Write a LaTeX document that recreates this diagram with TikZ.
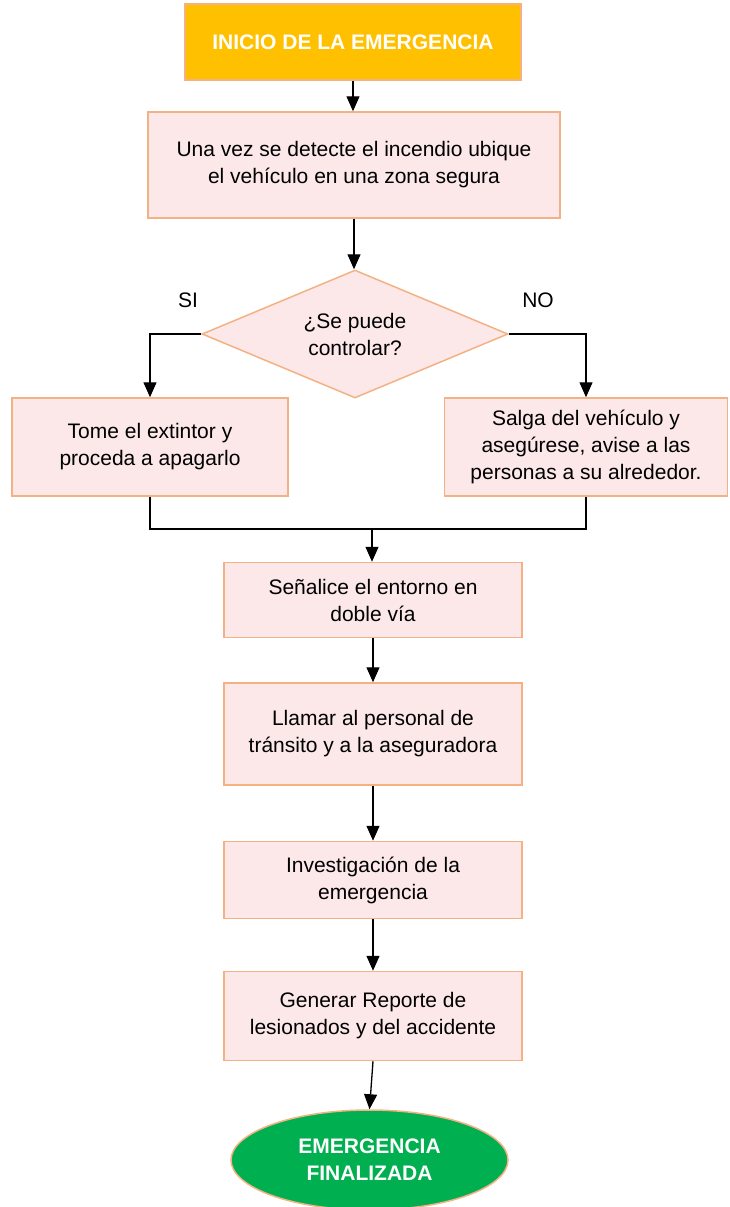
\documentclass[tikz,border=0pt]{standalone}
\usepackage{fontspec}
\setmainfont{Liberation Sans}
\usepackage{tikz}
\usetikzlibrary{arrows.meta, shapes.geometric}
\definecolor{oro}{HTML}{FFC000}
\definecolor{rosa}{HTML}{FCE8E8}
\definecolor{borde}{HTML}{F4B183}
\definecolor{verde}{HTML}{00B050}
\tikzset{
  paso/.style={rectangle, draw=borde, fill=rosa, line width=1.5pt, align=center,
    inner sep=0pt, font=\fontsize{21}{27}\selectfont},
  extremo/.style={draw=borde, line width=1.5pt, align=center, inner sep=0pt,
    text=white, font=\fontsize{21}{27}\selectfont\bfseries},
  flecha/.style={line width=1.3pt, -{Triangle[length=15pt, width=13pt]}},
  linea/.style={line width=1.3pt}
}
\begin{document}
\begin{tikzpicture}[x=1pt, y=-1pt]
  \useasboundingbox (0,0) rectangle (729,1207);

  \node[extremo, fill=oro, minimum width=336pt, minimum height=76pt] (inicio) at (353,42) {INICIO DE LA EMERGENCIA};
  \node[paso, minimum width=412pt, minimum height=106pt] (ubique) at (354,165) {Una vez se detecte el incendio ubique\\el vehículo en una zona segura};
  \node[diamond, aspect=2.4, draw=borde, fill=rosa, line width=1.5pt, align=center, inner sep=0pt,
    minimum width=306pt, minimum height=128pt, font=\fontsize{21}{27}\selectfont] (control) at (355,334) {¿Se puede\\controlar?};
  \node[font=\fontsize{21}{27}\selectfont] (si) at (188,300) {SI};
  \node[font=\fontsize{21}{27}\selectfont] (no) at (538,300) {NO};

  \node[paso, minimum width=276pt, minimum height=98pt] (extintor) at (150,447) {Tome el extintor y\\proceda a apagarlo};
  \node[paso, minimum width=283pt, minimum height=98pt] (salga) at (586,447) {Salga del vehículo y\\asegúrese, avise a las\\personas a su alrededor.};
  \coordinate (junta) at (372,529);

  \node[paso, minimum width=298pt, minimum height=75pt] (senal) at (373,600) {Señalice el entorno en\\doble vía};
  \node[paso, minimum width=298pt, minimum height=102pt] (llamar) at (373,734) {Llamar al personal de\\tránsito y a la aseguradora};
  \node[paso, minimum width=298pt, minimum height=77pt] (investiga) at (373,880) {Investigación de la\\emergencia};
  \node[paso, minimum width=298pt, minimum height=89pt] (reporte) at (373,1016) {Generar Reporte de\\lesionados y del accidente};
  \node[ellipse, extremo, fill=verde, minimum width=277pt, minimum height=100pt] (fin) at (369.5,1160) {EMERGENCIA\\FINALIZADA};

  % conectores
  \draw[flecha] (inicio) -- (inicio.south |- ubique.north);
  \draw[flecha] (ubique) -- (ubique.south |- control.north);
  \draw[flecha] (control.west) -| (extintor.north);
  \draw[flecha] (control.east) -| (salga.north);
  \draw[linea] (extintor.south) |- (junta) -| (salga.south);
  \draw[flecha] (junta) -- (junta |- senal.north);
  \draw[flecha] (senal) -- (llamar);
  \draw[flecha] (llamar) -- (investiga);
  \draw[flecha] (investiga) -- (reporte);
  \draw[flecha] (reporte.south) -- (fin.north);
\end{tikzpicture}
\end{document}
